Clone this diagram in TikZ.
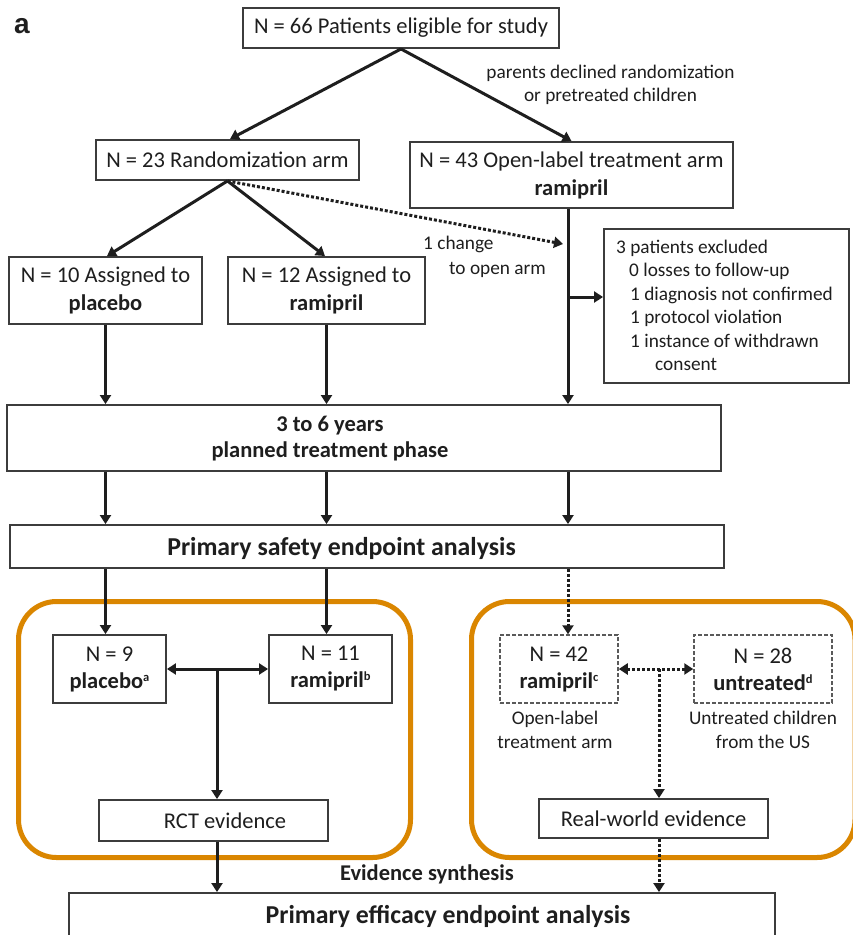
\documentclass[tikz,border=0pt]{standalone}
\usepackage{fontspec}
\setmainfont{Carlito}
\newfontfamily\labfont{Liberation Sans}
\usetikzlibrary{arrows.meta}
\definecolor{ink}{HTML}{1E1E1E}
\definecolor{boxline}{HTML}{3C3C3C}
\definecolor{orng}{HTML}{DA8600}
\definecolor{dashgray}{HTML}{5A5A5A}
\newcommand{\supmark}[1]{\raisebox{7pt}{\fontsize{12.5pt}{12.5pt}\selectfont #1}}
\begin{document}
\begin{tikzpicture}[x=1pt,y=-1pt,
  every node/.style={text=ink, inner sep=0pt},
  big/.style={font=\fontsize{22.5pt}{28pt}\selectfont},
  bigb/.style={font=\fontsize{22.5pt}{26pt}\selectfont\bfseries},
  small/.style={font=\fontsize{19.3pt}{24pt}\selectfont},
  huge/.style={font=\fontsize{25.8pt}{30pt}\selectfont\bfseries},
  box/.style={draw=boxline, line width=1.9pt, rectangle, fill=white},
  dbox/.style={draw=dashgray, line width=1.5pt, dash pattern=on 4pt off 2pt, rectangle, fill=white},
  arr/.style={draw=ink, line width=3pt, -{Triangle[length=9pt,width=11pt]}},
  darr/.style={draw=ink, line width=3pt, {Triangle[length=9pt,width=11pt]}-{Triangle[length=9pt,width=11pt]}},
  dotarr/.style={arr, dash pattern=on 3pt off 2pt},
  ddotarr/.style={darr, dash pattern=on 3pt off 2pt},
  group/.style={draw=orng, line width=5pt, rounded corners=38pt}
]
\useasboundingbox (0,0) rectangle (853,935);

% evidence groups
\draw[group] (18.5,601.5) rectangle (410.5,857.5);
\draw[group] (471.5,601.5) rectangle (855,857.5);

% panel label
\node[anchor=base west, font=\labfont\bfseries\fontsize{28pt}{30pt}\selectfont] (lbl) at (14,33) {a};

% top part
\node[box,big,minimum width=316pt,minimum height=40pt] (top) at (401,28) {N = 66 Patients eligible for study};
\node[box,big,minimum width=263pt,minimum height=40pt] (rand) at (227.5,160) {N = 23 Randomization arm};
\node[box,big,align=center,minimum width=323pt,minimum height=66pt] (open) at (571.5,175) {N = 43 Open-label treatment arm\\\textbf{ramipril}};
\node[small,align=center,font=\fontsize{19.3pt}{23pt}\selectfont] (why) at (610.5,85) {parents declined randomization\\or pretreated children};
\node[box,big,align=center,minimum width=193pt,minimum height=67pt] (plac) at (105.5,290.5) {N = 10 Assigned to\\\textbf{placebo}};
\node[box,big,align=center,minimum width=197pt,minimum height=67pt] (rami) at (326.5,290.5) {N = 12 Assigned to\\\textbf{ramipril}};
\node[small,anchor=base west] (chg1) at (423,249) {1 change};
\node[small,anchor=base west] (chg2) at (449,274) {to open arm};

% excluded box
\node[box,minimum width=245pt,minimum height=154pt] (excl) at (726.5,306) {};
\node[small,anchor=base west] (ex1) at (616,253) {3 patients excluded};
\node[small,anchor=base west] (ex2) at (629,276.5) {0 losses to follow-up};
\node[small,anchor=base west] (ex3) at (630,300) {1 diagnosis not confirmed};
\node[small,anchor=base west] (ex4) at (630,323.5) {1 protocol violation};
\node[small,anchor=base west] (ex5) at (630,347) {1 instance of withdrawn};
\node[small,anchor=base west] (ex6) at (655,370.5) {consent};

% treatment and safety
\node[box,minimum width=714pt,minimum height=66pt] (treat) at (364,438) {};
\node[bigb,align=center] (treattxt) at (330,439) {3 to 6 years\\planned treatment phase};
\node[box,minimum width=714pt,minimum height=43pt] (safety) at (367,546.5) {};
\node[huge] (safetytxt) at (341.5,548) {Primary safety endpoint analysis};

% RCT group
\node[box,big,align=center,font=\fontsize{22.5pt}{27pt}\selectfont,minimum width=113pt,minimum height=68pt] (pa) at (109.5,669) {N = 9\\\textbf{placebo\supmark{a}}};
\node[box,big,align=center,font=\fontsize{22.5pt}{27pt}\selectfont,minimum width=123pt,minimum height=68pt] (rb) at (330.5,669) {N = 11\\\textbf{ramipril\supmark{b}}};
\node[box,minimum width=229pt,minimum height=41pt] (rct) at (213.5,820.5) {};
\node[big] (rcttxt) at (225,821) {RCT evidence};

% real-world group
\node[dbox,big,align=center,font=\fontsize{22.5pt}{27pt}\selectfont,minimum width=118pt,minimum height=68pt] (rc) at (559,669) {N = 42\\\textbf{ramipril\supmark{c}}};
\node[dbox,big,align=center,font=\fontsize{22.5pt}{27pt}\selectfont,minimum width=138pt,minimum height=68pt] (ud) at (763,669) {N = 28\\\textbf{untreated\supmark{d}}};
\node[small,align=center] (olnote) at (555,730) {Open-label\\treatment arm};
\node[small,align=center] (utnote) at (763,730) {Untreated children\\from the US};
\node[box,big,minimum width=229pt,minimum height=39pt] (rw) at (653.5,818.5) {Real-world evidence};

% synthesis and efficacy
\node[bigb] (evs) at (427,874) {Evidence synthesis};
\node[box,minimum width=706pt,minimum height=82pt] (eff) at (422,934) {};
\node[huge] (efftxt) at (448,916) {Primary efficacy endpoint analysis};

% coordinates
\coordinate (vtop) at ([xshift=-3.5pt]open.south);
\coordinate (br) at (568,297);
\coordinate (chgend) at (563,244);
\coordinate (j1) at (217,669);
\coordinate (j2) at (659,669);

% connectors
\draw[arr] (top.south) -- ([xshift=2.5pt]rand.north);
\draw[arr] (top.south) -- (open.north);
\draw[arr] (rand.south) -- ([xshift=1.5pt]plac.north);
\draw[arr] (rand.south) -- ([xshift=-1.5pt]rami.north);
\draw[dotarr] (rand.south) -- (chgend);
\draw[arr] (vtop) -- (vtop |- treat.north);
\draw[arr] (br) -- (br -| excl.west);
\draw[arr] (plac.south) -- (plac.south |- treat.north);
\draw[arr] (rami.south) -- (rami.south |- treat.north);
\draw[arr] (plac.south |- treat.south) -- (plac.south |- safety.north);
\draw[arr] (rami.south |- treat.south) -- (rami.south |- safety.north);
\draw[arr] (br |- treat.south) -- (br |- safety.north);
\draw[arr] (plac.south |- safety.south) -- (plac.south |- pa.north);
\draw[arr] (rami.south |- safety.south) -- (rami.south |- rb.north);
\draw[dotarr] (br |- safety.south) -- (br |- rc.north);
\draw[darr] (pa.east) -- (rb.west);
\draw[arr] (j1) -- (j1 |- rct.north);
\draw[arr] (j1 |- rct.south) -- (j1 |- eff.north);
\draw[ddotarr] (rc.east) -- (ud.west);
\draw[dotarr] (j2) -- (j2 |- rw.north);
\draw[dotarr] (j2 |- rw.south) -- (j2 |- eff.north);
\end{tikzpicture}
\end{document}
